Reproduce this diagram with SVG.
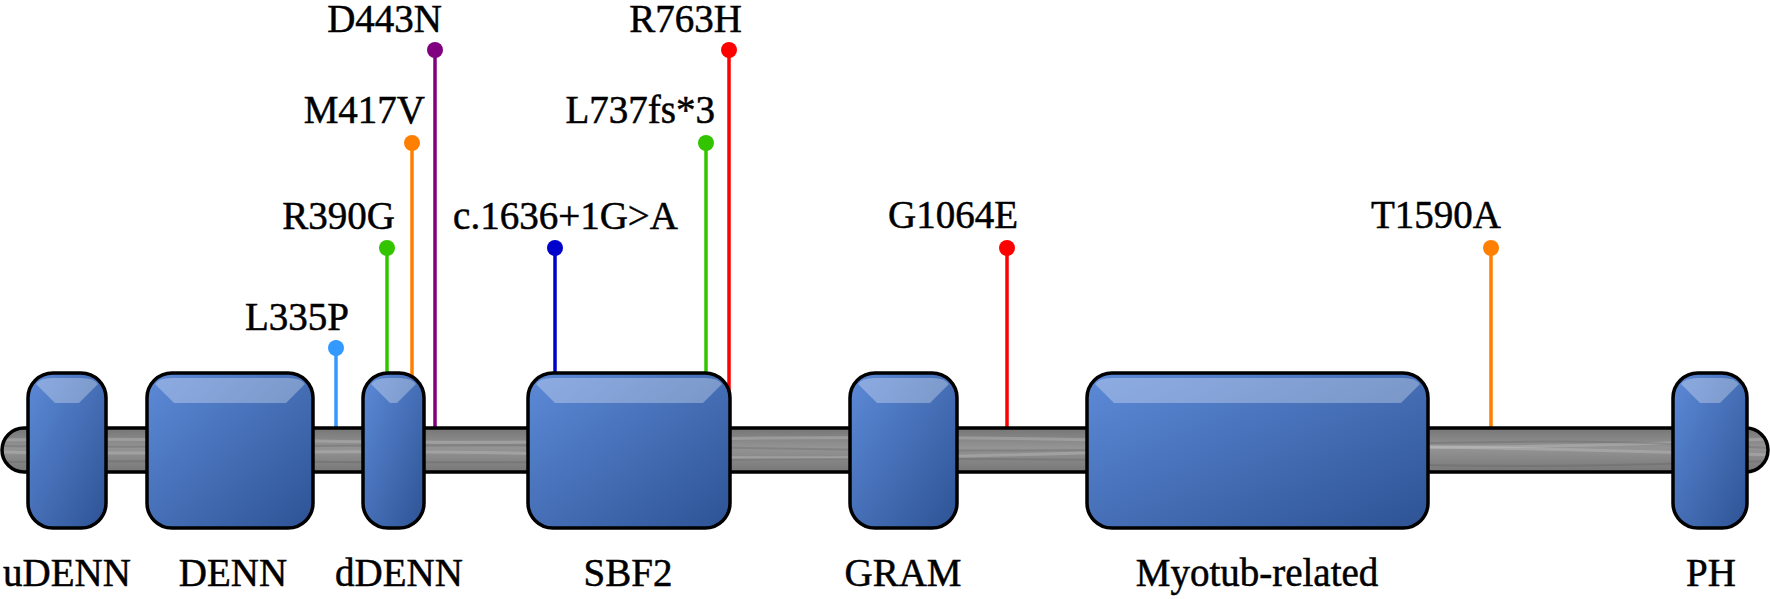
<svg xmlns="http://www.w3.org/2000/svg" width="1770" height="599" viewBox="0 0 1770 599">
<style>
  .t { font-family: 'Liberation Serif', 'Times New Roman', 'DejaVu Serif', serif; font-size: 39px; fill: #000; stroke: #000; stroke-width: 0.5; }
  .lbl { text-anchor: end; }
  .dl { text-anchor: middle; }
  .box { fill: url(#boxGrad); stroke: #000; stroke-width: 3.5; }
  .hl { fill: #ffffff; fill-opacity: 0.3; }
  .stem { stroke-width: 3.5; fill: none; }
  .streak { fill: none; stroke: #d0d0d0; stroke-opacity: 0.3; stroke-width: 3; }
  .streak2 { fill: none; stroke: #5e5e5e; stroke-opacity: 0.3; stroke-width: 2; }
</style>
<defs>
  <linearGradient id="boxGrad" x1="0" y1="0" x2="1" y2="1">
    <stop offset="0" stop-color="#5d8ad8"/>
    <stop offset="1" stop-color="#2d5394"/>
  </linearGradient>
  <linearGradient id="bbGrad" x1="0" y1="0" x2="0" y2="1">
    <stop offset="0" stop-color="#767676"/>
    <stop offset="0.45" stop-color="#949494"/>
    <stop offset="1" stop-color="#787878"/>
  </linearGradient>
  <clipPath id="bbClip">
    <rect x="2" y="428" width="1766" height="44" rx="22"/>
  </clipPath>
</defs>

<g id="connectors">
  <line class="stem" x1="336" y1="348" x2="336" y2="428" stroke="#3399ff"/>
  <line class="stem" x1="387" y1="248" x2="387" y2="428" stroke="#33c400"/>
  <line class="stem" x1="412" y1="143" x2="412" y2="428" stroke="#ff8000"/>
  <line class="stem" x1="435" y1="50" x2="435" y2="428" stroke="#800080"/>
  <line class="stem" x1="555" y1="248" x2="555" y2="428" stroke="#0000cc"/>
  <line class="stem" x1="706" y1="143" x2="706" y2="428" stroke="#33c400"/>
  <line class="stem" x1="729" y1="50" x2="729" y2="428" stroke="#ff0000"/>
  <line class="stem" x1="1007" y1="248" x2="1007" y2="428" stroke="#ff0000"/>
  <line class="stem" x1="1491" y1="248" x2="1491" y2="428" stroke="#ff8000"/>
</g>

<g id="backbone">
  <rect x="2" y="428" width="1766" height="44" rx="22" fill="url(#bbGrad)"/>
  <g clip-path="url(#bbClip)">
    <path class="streak" d="M0,440 C200,436 400,446 600,441 S1000,436 1200,443 S1600,447 1770,439"/>
    <path class="streak" d="M0,452 C150,456 350,448 550,454 S900,459 1150,451 S1500,448 1770,455"/>
    <path class="streak2" d="M0,446 C250,449 450,442 700,447 S1100,452 1350,445 S1650,443 1770,448"/>
    <path class="streak2" d="M0,462 C200,459 420,465 640,461 S1050,458 1300,463 S1600,466 1770,461"/>
  </g>
  <rect x="2" y="428" width="1766" height="44" rx="22" fill="none" stroke="#000" stroke-width="3.5"/>
</g>

<g id="domain-uDENN">
  <rect class="box" x="28" y="373" width="78" height="155" rx="25"/>
  <path class="hl" d="M55,403 L36,384 Q40,378 53,378 L81,378 Q94,378 98,384 L79,403 Z"/>
  <text class="t dl" x="67" y="586">uDENN</text>
</g>
<g id="domain-DENN">
  <rect class="box" x="147" y="373" width="166" height="155" rx="25"/>
  <path class="hl" d="M174,403 L155,384 Q159,378 172,378 L288,378 Q301,378 305,384 L286,403 Z"/>
  <text class="t dl" x="233" y="586">DENN</text>
</g>
<g id="domain-dDENN">
  <rect class="box" x="363" y="373" width="61" height="155" rx="25"/>
  <path class="hl" d="M390,403 L371,384 Q375,378 388,378 L399,378 Q412,378 416,384 L397,403 Z"/>
  <text class="t dl" x="399" y="586">dDENN</text>
</g>
<g id="domain-SBF2">
  <rect class="box" x="528" y="373" width="202" height="155" rx="25"/>
  <path class="hl" d="M555,403 L536,384 Q540,378 553,378 L705,378 Q718,378 722,384 L703,403 Z"/>
  <text class="t dl" x="628" y="586">SBF2</text>
</g>
<g id="domain-GRAM">
  <rect class="box" x="850" y="373" width="107" height="155" rx="25"/>
  <path class="hl" d="M877,403 L858,384 Q862,378 875,378 L932,378 Q945,378 949,384 L930,403 Z"/>
  <text class="t dl" x="903" y="586">GRAM</text>
</g>
<g id="domain-Myotub">
  <rect class="box" x="1087" y="373" width="341" height="155" rx="25"/>
  <path class="hl" d="M1114,403 L1095,384 Q1099,378 1112,378 L1403,378 Q1416,378 1420,384 L1401,403 Z"/>
  <text class="t dl" x="1257" y="586">Myotub-related</text>
</g>
<g id="domain-PH">
  <rect class="box" x="1673" y="373" width="74" height="155" rx="25"/>
  <path class="hl" d="M1700,403 L1681,384 Q1685,378 1698,378 L1722,378 Q1735,378 1739,384 L1720,403 Z"/>
  <text class="t dl" x="1711" y="586">PH</text>
</g>

<g id="mut-L335P"><circle cx="336" cy="348" r="8" fill="#3399ff"/><text class="t lbl" x="349" y="330">L335P</text></g>
<g id="mut-R390G"><circle cx="387" cy="248" r="8" fill="#33c400"/><text class="t lbl" x="395" y="229">R390G</text></g>
<g id="mut-M417V"><circle cx="412" cy="143" r="8" fill="#ff8000"/><text class="t lbl" x="425" y="123">M417V</text></g>
<g id="mut-D443N"><circle cx="435" cy="50" r="8" fill="#800080"/><text class="t lbl" x="442" y="32">D443N</text></g>
<g id="mut-c1636"><circle cx="555" cy="248" r="8" fill="#0000cc"/><text class="t lbl" x="678" y="229">c.1636+1G&gt;A</text></g>
<g id="mut-L737fs"><circle cx="706" cy="143" r="8" fill="#33c400"/><text class="t lbl" x="715" y="123">L737fs*3</text></g>
<g id="mut-R763H"><circle cx="729" cy="50" r="8" fill="#ff0000"/><text class="t lbl" x="742" y="32">R763H</text></g>
<g id="mut-G1064E"><circle cx="1007" cy="248" r="8" fill="#ff0000"/><text class="t lbl" x="1018" y="228">G1064E</text></g>
<g id="mut-T1590A"><circle cx="1491" cy="248" r="8" fill="#ff8000"/><text class="t lbl" x="1501" y="228">T1590A</text></g>
</svg>
